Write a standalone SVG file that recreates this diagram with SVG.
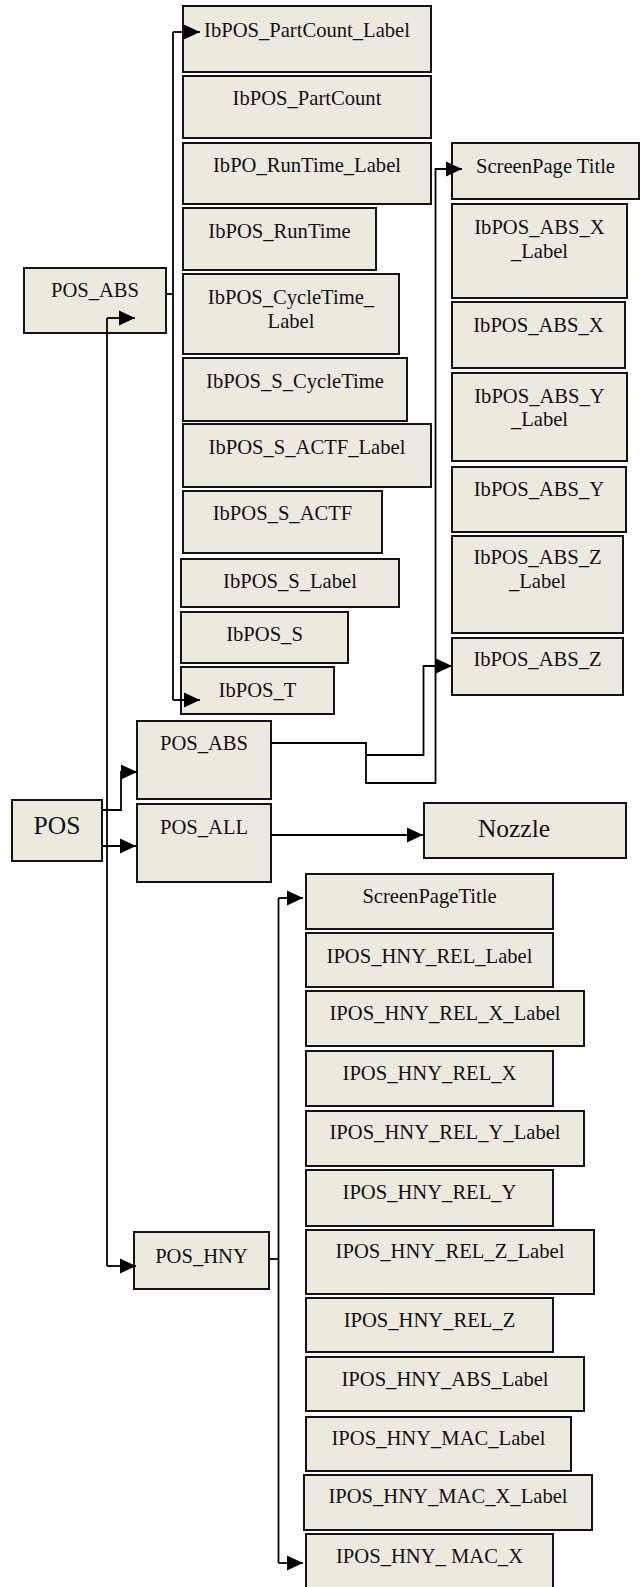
<svg xmlns="http://www.w3.org/2000/svg" width="643" height="1587" viewBox="0 0 643 1587">
<style>
.n rect{fill:#ECE9DE;stroke:#141414;stroke-width:2}
.n text{font-family:"Liberation Serif","Times New Roman",serif;font-size:20.6px;fill:#111;text-anchor:middle}
.n text.big{font-size:25.5px}
.c path{fill:none;stroke:#000;stroke-width:1.8}
.c path.a{marker-end:url(#ah)}
</style>
<defs>
<marker id="ah" markerUnits="userSpaceOnUse" markerWidth="16" markerHeight="15" refX="16" refY="7.5" orient="auto" overflow="visible">
<path d="M0,0 L16,7.5 L0,15 z" fill="#000"/>
</marker>
</defs>
<rect width="643" height="1587" fill="#fff"/>

<g id="n_partcount_label" class="n"><rect x="183" y="6" width="248" height="66"/><text x="307" y="37">IbPOS_PartCount_Label</text></g>
<g id="n_partcount" class="n"><rect x="183" y="76" width="248" height="62"/><text x="307" y="105">IbPOS_PartCount</text></g>
<g id="n_runtime_label" class="n"><rect x="183" y="143" width="248" height="61"/><text x="307" y="172">IbPO_RunTime_Label</text></g>
<g id="n_runtime" class="n"><rect x="183" y="208" width="193" height="62"/><text x="279.5" y="238">IbPOS_RunTime</text></g>
<g id="n_cycletime_label" class="n"><rect x="183" y="274" width="216" height="80"/><text x="291" y="304">IbPOS_CycleTime_</text><text x="291" y="328">Label</text></g>
<g id="n_s_cycletime" class="n"><rect x="183" y="358" width="224" height="63"/><text x="295" y="388">IbPOS_S_CycleTime</text></g>
<g id="n_s_actf_label" class="n"><rect x="183" y="424" width="248" height="63"/><text x="307" y="454">IbPOS_S_ACTF_Label</text></g>
<g id="n_s_actf" class="n"><rect x="183" y="491" width="199" height="62"/><text x="282.5" y="520">IbPOS_S_ACTF</text></g>
<g id="n_s_label" class="n"><rect x="181" y="559" width="218" height="48"/><text x="290" y="588">IbPOS_S_Label</text></g>
<g id="n_s" class="n"><rect x="181" y="612" width="167" height="51"/><text x="264.5" y="641">IbPOS_S</text></g>
<g id="n_t" class="n"><rect x="181" y="667" width="153" height="47"/><text x="257.5" y="697">IbPOS_T</text></g>

<g id="n_abs_title" class="n"><rect x="452" y="143" width="187" height="56"/><text x="545.5" y="173">ScreenPage Title</text></g>
<g id="n_abs_x_label" class="n"><rect x="452" y="204" width="175" height="94"/><text x="539.5" y="234">IbPOS_ABS_X</text><text x="539.5" y="258">_Label</text></g>
<g id="n_abs_x" class="n"><rect x="452" y="302" width="173" height="66"/><text x="538.5" y="332">IbPOS_ABS_X</text></g>
<g id="n_abs_y_label" class="n"><rect x="452" y="373" width="175" height="88"/><text x="539.5" y="403">IbPOS_ABS_Y</text><text x="539.5" y="426">_Label</text></g>
<g id="n_abs_y" class="n"><rect x="452" y="467" width="174" height="65"/><text x="539" y="496">IbPOS_ABS_Y</text></g>
<g id="n_abs_z_label" class="n"><rect x="452" y="536" width="171" height="97"/><text x="537.5" y="564">IbPOS_ABS_Z</text><text x="537.5" y="588">_Label</text></g>
<g id="n_abs_z" class="n"><rect x="452" y="638" width="171" height="57"/><text x="537.5" y="666">IbPOS_ABS_Z</text></g>

<g id="n_pos_abs_top" class="n"><rect x="24" y="268" width="142" height="65"/><text x="95" y="297">POS_ABS</text></g>
<g id="n_pos" class="n"><rect x="12" y="800" width="90" height="61"/><text class="big" x="57" y="834">POS</text></g>
<g id="n_pos_abs" class="n"><rect x="137" y="721" width="134" height="78"/><text x="204" y="750">POS_ABS</text></g>
<g id="n_pos_all" class="n"><rect x="137" y="804" width="134" height="78"/><text x="204" y="834">POS_ALL</text></g>
<g id="n_nozzle" class="n"><rect x="424" y="803" width="202" height="55"/><text class="big" x="514" y="837">Nozzle</text></g>
<g id="n_pos_hny" class="n"><rect x="134" y="1232" width="135" height="57"/><text x="201.5" y="1263">POS_HNY</text></g>

<g id="n_hny_title" class="n"><rect x="306" y="874" width="247" height="55"/><text x="429.5" y="903">ScreenPageTitle</text></g>
<g id="n_hny_rel_label" class="n"><rect x="306" y="933" width="247" height="54"/><text x="429.5" y="963">IPOS_HNY_REL_Label</text></g>
<g id="n_hny_rel_x_label" class="n"><rect x="306" y="991" width="278" height="55"/><text x="445" y="1020">IPOS_HNY_REL_X_Label</text></g>
<g id="n_hny_rel_x" class="n"><rect x="306" y="1051" width="247" height="55"/><text x="429.5" y="1080">IPOS_HNY_REL_X</text></g>
<g id="n_hny_rel_y_label" class="n"><rect x="306" y="1111" width="278" height="55"/><text x="445" y="1139">IPOS_HNY_REL_Y_Label</text></g>
<g id="n_hny_rel_y" class="n"><rect x="306" y="1170" width="247" height="56"/><text x="429.5" y="1199">IPOS_HNY_REL_Y</text></g>
<g id="n_hny_rel_z_label" class="n"><rect x="306" y="1230" width="288" height="64"/><text x="450" y="1258">IPOS_HNY_REL_Z_Label</text></g>
<g id="n_hny_rel_z" class="n"><rect x="306" y="1298" width="247" height="54"/><text x="429.5" y="1327">IPOS_HNY_REL_Z</text></g>
<g id="n_hny_abs_label" class="n"><rect x="306" y="1357" width="278" height="54"/><text x="445" y="1386">IPOS_HNY_ABS_Label</text></g>
<g id="n_hny_mac_label" class="n"><rect x="306" y="1417" width="265" height="54"/><text x="438.5" y="1445">IPOS_HNY_MAC_Label</text></g>
<g id="n_hny_mac_x_label" class="n"><rect x="304" y="1475" width="288" height="55"/><text x="448" y="1503">IPOS_HNY_MAC_X_Label</text></g>
<g id="n_hny_mac_x" class="n"><rect x="306" y="1534" width="247" height="54"/><text x="429.5" y="1563">IPOS_HNY_ MAC_X</text></g>

<g id="connectors" class="c">
<path d="M166,294 H173"/>
<path d="M173,32 V700"/>
<path class="a" d="M173,32 H200"/>
<path class="a" d="M173,700 H200"/>
<path d="M107,318 V1266"/>
<path class="a" d="M107,318 H135"/>
<path class="a" d="M107,1266 H136"/>
<path class="a" d="M102,810 H121 V772 H137"/>
<path class="a" d="M102,846 H136"/>
<path class="a" d="M271,835 H423"/>
<path class="a" d="M271,743 H366 V783 H435.5 V169 H462"/>
<path class="a" d="M366,755 H423.5 V666 H452"/>
<path d="M269,1259 H278.5"/>
<path d="M278.5,898 V1563"/>
<path class="a" d="M278.5,898 H303"/>
<path class="a" d="M278.5,1563 H303"/>
</g>
</svg>
